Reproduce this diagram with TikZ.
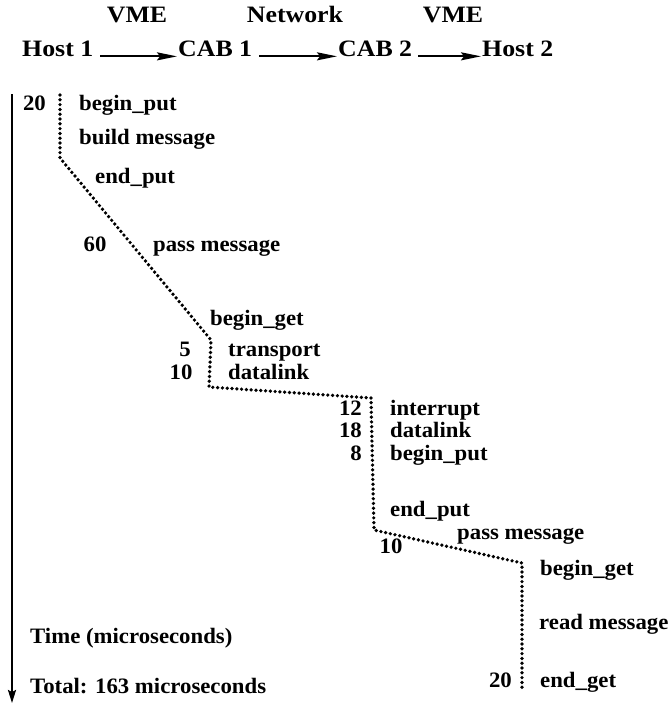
\documentclass[tikz,border=0pt]{standalone}
\usepackage{fontspec}
\setmainfont{Liberation Serif}
\usetikzlibrary{arrows.meta}
\begin{document}
\begin{tikzpicture}[x=1pt,y=-1pt,
  txt/.style={inner sep=0pt,font=\fontsize{22}{24}\selectfont\bfseries\addfontfeature{FakeStretch=1.035}},
  head/.style={inner sep=0pt,anchor=base west,font=\fontsize{23.5}{25}\selectfont\bfseries\addfontfeature{FakeStretch=1.1}},
  lft/.style={txt,anchor=base west},
  rgt/.style={txt,anchor=base east},
  mid/.style={txt,anchor=base},
  link/.style={line width=1.9pt,-{Stealth[length=20pt,width=8pt,inset=3pt]}},
  trace/.style={line width=3.7pt,dash pattern=on 0pt off 4.8pt,line cap=round,line join=round}]
\useasboundingbox (0,0) rectangle (670,704);

% header: hosts and CABs joined by their links
\node[head,anchor=base] (vme1) at (137,22) {VME};
\node[head,anchor=base] (net) at (295,22) {Network};
\node[head,anchor=base] (vme2) at (453,22) {VME};
\node[head] (h1) at (22,56) {Host 1};
\node[head] (c1) at (178,56) {CAB 1};
\node[head] (c2) at (338,56) {CAB 2};
\node[head] (h2) at (482,56) {Host 2};
\draw[link] (h1.east) ++(7pt,-8pt) coordinate (a1) -- ([xshift=-1pt]a1 -| c1.west);
\draw[link] (c1.east) ++(7pt,-8pt) coordinate (a2) -- ([xshift=-1pt]a2 -| c2.west);
\draw[link] (c2.east) ++(6pt,-8pt) coordinate (a3) -- ([xshift=-1pt]a3 -| h2.west);

% time axis
\coordinate (t0) at (12,94);
\coordinate (t1) at (12,703);
\draw[line width=2pt,-{Stealth[length=13pt,width=8pt,inset=2pt]}] (t0) -- (t1);
\node[lft] (time) at (30,643) {Time (microseconds)};
\node[lft] (total) at (30,693) {Total: 163 microseconds};

% path of a message through the hosts and CABs
\coordinate (p0) at (60,95);
\coordinate (p1) at (60,158);
\coordinate (p2) at (211,340);
\coordinate (p3) at (209,387);
\coordinate (p4) at (371,398);
\coordinate (p5) at (374,530);
\coordinate (p6) at (522,563);
\coordinate (p7) at (522,688);
\draw[trace] (p0) -- (p1) -- (p2) -- (p3) -- (p4) -- (p5) -- (p6) -- (p7);

% Host 1
\node[rgt] (n20a) at (46,110) {20};
\node[lft] (bput1) at (79,110) {begin\_put};
\node[lft] (build) at (79,144) {build message};
\node[lft] (eput1) at (95,183) {end\_put};
\node[mid] (n60) at (95,251) {60};
\node[lft] (pass1) at (153,251) {pass message};

% CAB 1
\node[lft] (bget1) at (210,325) {begin\_get};
\node[mid] (n5) at (185,356) {5};
\node[lft] (trans) at (228,356) {transport};
\node[mid] (n10a) at (181,379) {10};
\node[lft] (dl1) at (228,379) {datalink};

% CAB 2
\node[rgt] (n12) at (362,415) {12};
\node[lft] (intr) at (390,415) {interrupt};
\node[rgt] (n18) at (362,437) {18};
\node[lft] (dl2) at (390,437) {datalink};
\node[rgt] (n8) at (362,460) {8};
\node[lft] (bput2) at (390,460) {begin\_put};
\node[lft] (eput2) at (390,516) {end\_put};
\node[lft] (pass2) at (457,539) {pass message};
\node[mid] (n10b) at (391,553) {10};

% Host 2
\node[lft] (bget2) at (540,575) {begin\_get};
\node[lft] (read) at (539,629) {read message};
\node[rgt] (n20b) at (512,687) {20};
\node[lft] (eget) at (540,687) {end\_get};
\end{tikzpicture}
\end{document}
